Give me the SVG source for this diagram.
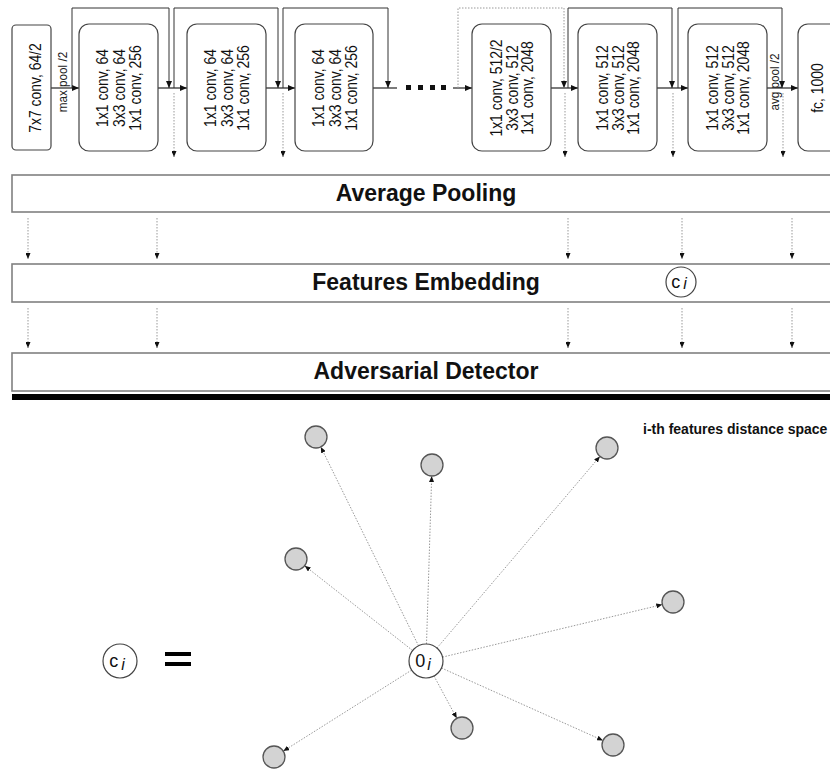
<svg xmlns="http://www.w3.org/2000/svg" width="830" height="770" viewBox="0 0 830 770">
<defs>
<style>
.blk{fill:#fff;stroke:#444;stroke-width:1.2}
.wide{fill:#fff;stroke:#808080;stroke-width:1.6}
.t14{font-family:"Liberation Sans",Arial,sans-serif;font-size:16px;fill:#111;text-anchor:middle}
.t12{font-family:"Liberation Sans",Arial,sans-serif;font-size:13px;fill:#222;text-anchor:middle}
.big{font-family:"Liberation Sans",Arial,sans-serif;font-size:23px;font-weight:bold;fill:#111;text-anchor:middle}
.lab{font-family:"Liberation Sans",Arial,sans-serif;font-size:14px;font-weight:bold;fill:#111}
.sym{font-family:"Liberation Sans",Arial,sans-serif;font-size:18px;fill:#111;text-anchor:middle}
.main{fill:none;stroke:#222;stroke-width:1.2}
.skip{fill:none;stroke:#333;stroke-width:1}
.dot{fill:none;stroke:#999;stroke-width:1;stroke-dasharray:1.5,1.5}
.node{fill:#d3d3d3;stroke:#555;stroke-width:1.3}
.circ{fill:#fff;stroke:#444;stroke-width:1.2}
</style>
<marker id="ah" markerUnits="userSpaceOnUse" markerWidth="7" markerHeight="6" refX="7" refY="3" orient="auto">
<path d="M0,0 L7,3 L0,6 z" fill="#111"/>
</marker>
<marker id="as" markerUnits="userSpaceOnUse" markerWidth="6" markerHeight="5" refX="6" refY="2.5" orient="auto">
<path d="M0,0 L6,2.5 L0,5 z" fill="#111"/>
</marker>
</defs>
<rect width="830" height="770" fill="#fff"/>

<g id="connectors">
<path class="main" d="M51,88 H79" marker-end="url(#ah)"/>
<path class="main" d="M158,88 H187" marker-end="url(#ah)"/>
<path class="main" d="M266,88 H295" marker-end="url(#ah)"/>
<path class="main" d="M373,88 H397"/>
<path class="main" d="M453,88 H472" marker-end="url(#ah)"/>
<path class="main" d="M551,88 H578" marker-end="url(#ah)"/>
<path class="main" d="M657,88 H688" marker-end="url(#ah)"/>
<path class="main" d="M767,88 H798" marker-end="url(#ah)"/>
<path class="skip" d="M72,88 V8 H169 V88" marker-end="url(#ah)"/>
<path class="skip" d="M174,88 V8 H278 V88" marker-end="url(#ah)"/>
<path class="skip" d="M283,88 V8 H388 V88" marker-end="url(#ah)"/>
<path class="dot" d="M458,88 V8 H564 V88" marker-end="url(#ah)"/>
<path class="skip" d="M568,88 V8 H672 V88" marker-end="url(#ah)"/>
<path class="skip" d="M678,88 V8 H782 V88" marker-end="url(#ah)"/>
<g fill="#111">
<rect x="406" y="85" width="5" height="5"/>
<rect x="418" y="85" width="5" height="5"/>
<rect x="430" y="85" width="5" height="5"/>
<rect x="441" y="85" width="5" height="5"/>
</g>
<path class="dot" d="M174,93 V157" marker-end="url(#as)"/>
<path class="dot" d="M283,93 V157" marker-end="url(#as)"/>
<path class="dot" d="M565,93 V157" marker-end="url(#as)"/>
<path class="dot" d="M673,93 V157" marker-end="url(#as)"/>
<path class="dot" d="M783,93 V157" marker-end="url(#as)"/>
<path class="dot" d="M28,218 V259" marker-end="url(#as)"/>
<path class="dot" d="M157,218 V259" marker-end="url(#as)"/>
<path class="dot" d="M568,218 V259" marker-end="url(#as)"/>
<path class="dot" d="M682,218 V259" marker-end="url(#as)"/>
<path class="dot" d="M792,218 V259" marker-end="url(#as)"/>
<path class="dot" d="M28,308 V348" marker-end="url(#as)"/>
<path class="dot" d="M157,308 V348" marker-end="url(#as)"/>
<path class="dot" d="M568,308 V348" marker-end="url(#as)"/>
<path class="dot" d="M682,308 V348" marker-end="url(#as)"/>
<path class="dot" d="M792,308 V348" marker-end="url(#as)"/>
<path class="dot" d="M418.5,645.7 L320.8,446.9" marker-end="url(#as)"/>
<path class="dot" d="M426.5,644 L431.7,476" marker-end="url(#as)"/>
<path class="dot" d="M437,648 L599.9,456.4" marker-end="url(#as)"/>
<path class="dot" d="M412.6,650.5 L304.7,565.8" marker-end="url(#as)"/>
<path class="dot" d="M442.5,657.1 L662.3,604.6" marker-end="url(#as)"/>
<path class="dot" d="M434,676 L456.8,718.3" marker-end="url(#as)"/>
<path class="dot" d="M441.5,668 L603,740.5" marker-end="url(#as)"/>
<path class="dot" d="M411.6,670.1 L283.3,751.1" marker-end="url(#as)"/>
</g>

<g id="conv1">
<rect class="blk" x="12" y="25" width="39" height="125" rx="4"/>
<text class="t14" transform="translate(41,88) rotate(-90) scale(0.87,1)">7x7 conv, 64/2</text>
</g>
<text class="t12" transform="translate(67,82) rotate(-90) scale(0.9,1)">max pool /2</text>
<g id="res1">
<rect class="blk" x="79" y="24" width="79" height="127" rx="10"/>
<g class="t14"><text transform="translate(108,88) rotate(-90) scale(0.87,1)">1x1 conv, 64</text><text transform="translate(125,88) rotate(-90) scale(0.87,1)">3x3 conv, 64</text><text transform="translate(141,88) rotate(-90) scale(0.87,1)">1x1 conv, 256</text></g>
</g>
<g id="res2">
<rect class="blk" x="187" y="24" width="79" height="127" rx="10"/>
<g class="t14"><text transform="translate(216,88) rotate(-90) scale(0.87,1)">1x1 conv, 64</text><text transform="translate(233,88) rotate(-90) scale(0.87,1)">3x3 conv, 64</text><text transform="translate(249,88) rotate(-90) scale(0.87,1)">1x1 conv, 256</text></g>
</g>
<g id="res3">
<rect class="blk" x="295" y="24" width="78" height="127" rx="10"/>
<g class="t14"><text transform="translate(324,88) rotate(-90) scale(0.87,1)">1x1 conv, 64</text><text transform="translate(341,88) rotate(-90) scale(0.87,1)">3x3 conv, 64</text><text transform="translate(357,88) rotate(-90) scale(0.87,1)">1x1 conv, 256</text></g>
</g>
<g id="res4">
<rect class="blk" x="472" y="24" width="79" height="127" rx="10"/>
<g class="t14"><text transform="translate(502,88) rotate(-90) scale(0.87,1)">1x1 conv, 512/2</text><text transform="translate(518,88) rotate(-90) scale(0.87,1)">3x3 conv, 512</text><text transform="translate(533,88) rotate(-90) scale(0.87,1)">1x1 conv, 2048</text></g>
</g>
<g id="res5">
<rect class="blk" x="578" y="24" width="79" height="127" rx="10"/>
<g class="t14"><text transform="translate(608,88) rotate(-90) scale(0.87,1)">1x1 conv, 512</text><text transform="translate(624,88) rotate(-90) scale(0.87,1)">3x3 conv, 512</text><text transform="translate(639,88) rotate(-90) scale(0.87,1)">1x1 conv, 2048</text></g>
</g>
<g id="res6">
<rect class="blk" x="688" y="24" width="79" height="127" rx="10"/>
<g class="t14"><text transform="translate(718,88) rotate(-90) scale(0.87,1)">1x1 conv, 512</text><text transform="translate(734,88) rotate(-90) scale(0.87,1)">3x3 conv, 512</text><text transform="translate(749,88) rotate(-90) scale(0.87,1)">1x1 conv, 2048</text></g>
</g>
<text class="t12" transform="translate(779,82) rotate(-90) scale(0.9,1)">avg pool /2</text>
<g id="fc">
<rect class="blk" x="798" y="24" width="60" height="127" rx="10"/>
<text class="t14" transform="translate(823,88) rotate(-90) scale(0.87,1)">fc, 1000</text>
</g>

<g id="avgpool">
<rect class="wide" x="12" y="175" width="830" height="37"/>
<text class="big" x="426" y="201">Average Pooling</text>
</g>
<g id="embedding">
<rect class="wide" x="12" y="264" width="830" height="38"/>
<text class="big" x="426" y="290">Features Embedding</text>
<circle class="circ" cx="681" cy="282" r="15"/>
<text class="sym" x="679" y="288">c<tspan font-style="italic" font-size="16" dx="3" dy="1">i</tspan></text>
</g>
<g id="detector">
<rect class="wide" x="12" y="353" width="830" height="38"/>
<text class="big" x="426" y="379">Adversarial Detector</text>
</g>
<rect id="separator" x="12" y="394" width="830" height="6" fill="#000"/>

<g id="space">
<text class="lab" x="643" y="434">i-th features distance space</text>
<circle class="node" cx="316" cy="437" r="11"/>
<circle class="node" cx="432" cy="465" r="11"/>
<circle class="node" cx="607" cy="448" r="11"/>
<circle class="node" cx="296" cy="559" r="11"/>
<circle class="node" cx="673" cy="602" r="11"/>
<circle class="node" cx="462" cy="728" r="11"/>
<circle class="node" cx="613" cy="745" r="11"/>
<circle class="node" cx="274" cy="757" r="11"/>
</g>
<g id="origin">
<circle class="circ" cx="426" cy="661" r="17"/>
<text class="sym" x="423" y="667">0<tspan font-style="italic" font-size="16" dx="2" dy="3">i</tspan></text>
</g>
<g id="ci">
<circle class="circ" cx="120" cy="661" r="17"/>
<text class="sym" x="117" y="667">c<tspan font-style="italic" font-size="16" dx="3" dy="3">i</tspan></text>
</g>
<g id="equals" fill="#000">
<rect x="165" y="652" width="26" height="4"/>
<rect x="165" y="662" width="26" height="4"/>
</g>
</svg>
